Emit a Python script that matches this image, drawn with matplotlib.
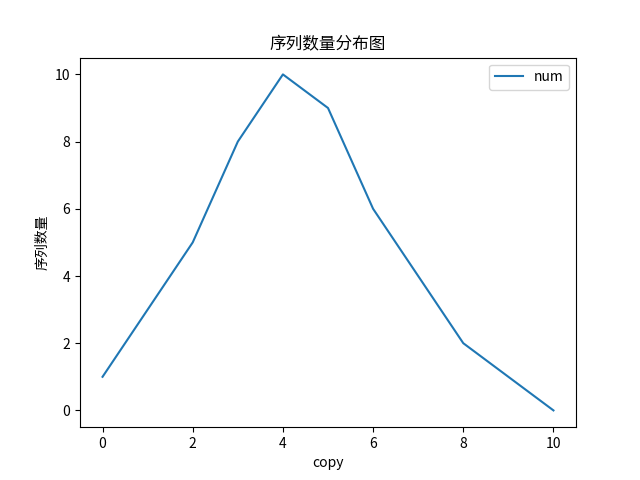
import matplotlib
matplotlib.use("Agg")
import matplotlib.pyplot as plt

plt.rcParams['font.family'] = ['Noto Sans CJK SC', 'DejaVu Sans']
plt.rcParams['axes.unicode_minus'] = False

copy = [0, 1, 2, 3, 4, 5, 6, 7, 8, 9, 10]
num = [1, 3, 5, 8, 10, 9, 6, 4, 2, 1, 0]

fig, ax = plt.subplots(figsize=(6.4, 4.8), dpi=100)
ax.plot(copy, num, label='num')
ax.set_title('序列数量分布图')
ax.set_xlabel('copy')
ax.set_ylabel('序列数量')
ax.legend(loc='upper right')
fig.savefig('out.png')
